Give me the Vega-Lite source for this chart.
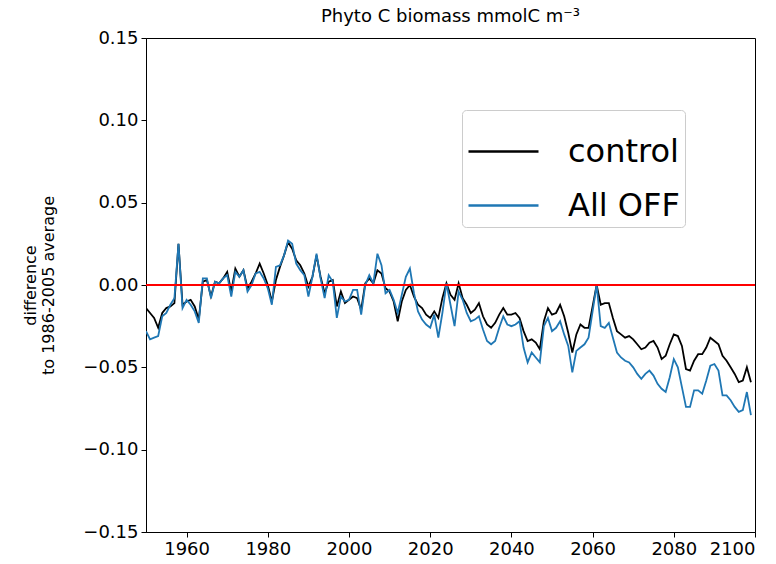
{
  "$schema": "https://vega.github.io/schema/vega-lite/v6.json",
  "width": 609,
  "height": 494,
  "autosize": {"type": "none"},
  "padding": {"left": 146, "top": 38, "right": 21, "bottom": 32},
  "background": "white",
  "config": {
    "font": "DejaVu Sans",
    "view": {"stroke": "black", "strokeWidth": 1},
    "axis": {"grid": false, "domainColor": "black", "tickColor": "black", "labelColor": "black", "titleColor": "black", "labelFont": "DejaVu Sans", "titleFont": "DejaVu Sans", "labelFontSize": 18, "titleFontSize": 16, "titleFontWeight": "normal", "tickSize": 5, "labelPadding": 3}
  },
  "title": {"text": "Phyto C biomass mmolC m⁻³", "fontSize": 18, "fontWeight": "normal", "font": "DejaVu Sans", "color": "black", "offset": 3},
  "layer": [
    {
      "data": {"values": [
        {"year":1950,"control":-0.014,"All OFF":-0.028},{"year":1951,"control":-0.017,"All OFF":-0.033},{"year":1952,"control":-0.020,"All OFF":-0.032},{"year":1953,"control":-0.026,"All OFF":-0.031},{"year":1954,"control":-0.017,"All OFF":-0.019},{"year":1955,"control":-0.014,"All OFF":-0.017},{"year":1956,"control":-0.013,"All OFF":-0.012},{"year":1957,"control":-0.011,"All OFF":-0.008},{"year":1958,"control":0.025,"All OFF":0.025},{"year":1959,"control":-0.012,"All OFF":-0.014},
        {"year":1960,"control":-0.010,"All OFF":-0.009},{"year":1961,"control":-0.009,"All OFF":-0.012},{"year":1962,"control":-0.013,"All OFF":-0.016},{"year":1963,"control":-0.021,"All OFF":-0.023},{"year":1964,"control":0.002,"All OFF":0.004},{"year":1965,"control":0.003,"All OFF":0.004},{"year":1966,"control":-0.007,"All OFF":-0.008},{"year":1967,"control":0.002,"All OFF":0.002},{"year":1968,"control":0.001,"All OFF":0.001},{"year":1969,"control":0.004,"All OFF":0.004},
        {"year":1970,"control":0.008,"All OFF":0.006},{"year":1971,"control":-0.004,"All OFF":-0.007},{"year":1972,"control":0.010,"All OFF":0.008},{"year":1973,"control":0.005,"All OFF":0.005},{"year":1974,"control":0.009,"All OFF":0.009},{"year":1975,"control":-0.002,"All OFF":-0.004},{"year":1976,"control":0.002,"All OFF":0.000},{"year":1977,"control":0.007,"All OFF":0.007},{"year":1978,"control":0.013,"All OFF":0.008},{"year":1979,"control":0.007,"All OFF":0.004},
        {"year":1980,"control":0.000,"All OFF":-0.002},{"year":1981,"control":-0.010,"All OFF":-0.012},{"year":1982,"control":0.003,"All OFF":0.011},{"year":1983,"control":0.011,"All OFF":0.012},{"year":1984,"control":0.018,"All OFF":0.018},{"year":1985,"control":0.026,"All OFF":0.027},{"year":1986,"control":0.022,"All OFF":0.025},{"year":1987,"control":0.015,"All OFF":0.013},{"year":1988,"control":0.012,"All OFF":0.009},{"year":1989,"control":0.007,"All OFF":0.006},
        {"year":1990,"control":-0.001,"All OFF":-0.007},{"year":1991,"control":0.005,"All OFF":0.005},{"year":1992,"control":0.018,"All OFF":0.019},{"year":1993,"control":0.005,"All OFF":0.004},{"year":1994,"control":-0.005,"All OFF":-0.008},{"year":1995,"control":0.002,"All OFF":0.006},{"year":1996,"control":0.003,"All OFF":0.002},{"year":1997,"control":-0.013,"All OFF":-0.020},{"year":1998,"control":-0.004,"All OFF":-0.007},{"year":1999,"control":-0.011,"All OFF":-0.010},
        {"year":2000,"control":-0.009,"All OFF":-0.009},{"year":2001,"control":-0.007,"All OFF":-0.003},{"year":2002,"control":-0.008,"All OFF":-0.003},{"year":2003,"control":-0.015,"All OFF":-0.018},{"year":2004,"control":0.001,"All OFF":0.000},{"year":2005,"control":0.004,"All OFF":0.006},{"year":2006,"control":0.001,"All OFF":0.001},{"year":2007,"control":0.009,"All OFF":0.019},{"year":2008,"control":0.007,"All OFF":0.012},{"year":2009,"control":-0.002,"All OFF":-0.005},
        {"year":2010,"control":-0.004,"All OFF":-0.003},{"year":2011,"control":-0.010,"All OFF":-0.009},{"year":2012,"control":-0.022,"All OFF":-0.017},{"year":2013,"control":-0.010,"All OFF":-0.006},{"year":2014,"control":-0.003,"All OFF":0.005},{"year":2015,"control":0.000,"All OFF":0.010},{"year":2016,"control":-0.007,"All OFF":-0.005},{"year":2017,"control":-0.012,"All OFF":-0.016},{"year":2018,"control":-0.014,"All OFF":-0.021},{"year":2019,"control":-0.018,"All OFF":-0.024},
        {"year":2020,"control":-0.020,"All OFF":-0.026},{"year":2021,"control":-0.016,"All OFF":-0.018},{"year":2022,"control":-0.020,"All OFF":-0.032},{"year":2023,"control":-0.008,"All OFF":-0.017},{"year":2024,"control":0.001,"All OFF":0.001},{"year":2025,"control":-0.006,"All OFF":-0.012},{"year":2026,"control":-0.009,"All OFF":-0.025},{"year":2027,"control":0.001,"All OFF":-0.004},{"year":2028,"control":-0.008,"All OFF":-0.009},{"year":2029,"control":-0.012,"All OFF":-0.017},
        {"year":2030,"control":-0.017,"All OFF":-0.022},{"year":2031,"control":-0.015,"All OFF":-0.021},{"year":2032,"control":-0.011,"All OFF":-0.019},{"year":2033,"control":-0.019,"All OFF":-0.027},{"year":2034,"control":-0.024,"All OFF":-0.034},{"year":2035,"control":-0.026,"All OFF":-0.036},{"year":2036,"control":-0.023,"All OFF":-0.034},{"year":2037,"control":-0.018,"All OFF":-0.026},{"year":2038,"control":-0.014,"All OFF":-0.019},{"year":2039,"control":-0.018,"All OFF":-0.024},
        {"year":2040,"control":-0.018,"All OFF":-0.025},{"year":2041,"control":-0.017,"All OFF":-0.024},{"year":2042,"control":-0.020,"All OFF":-0.022},{"year":2043,"control":-0.028,"All OFF":-0.038},{"year":2044,"control":-0.034,"All OFF":-0.047},{"year":2045,"control":-0.033,"All OFF":-0.041},{"year":2046,"control":-0.035,"All OFF":-0.044},{"year":2047,"control":-0.039,"All OFF":-0.047},{"year":2048,"control":-0.022,"All OFF":-0.025},{"year":2049,"control":-0.014,"All OFF":-0.020},
        {"year":2050,"control":-0.018,"All OFF":-0.028},{"year":2051,"control":-0.017,"All OFF":-0.026},{"year":2052,"control":-0.012,"All OFF":-0.022},{"year":2053,"control":-0.019,"All OFF":-0.030},{"year":2054,"control":-0.029,"All OFF":-0.037},{"year":2055,"control":-0.041,"All OFF":-0.053},{"year":2056,"control":-0.030,"All OFF":-0.040},{"year":2057,"control":-0.024,"All OFF":-0.038},{"year":2058,"control":-0.026,"All OFF":-0.036},{"year":2059,"control":-0.026,"All OFF":-0.032},
        {"year":2060,"control":-0.013,"All OFF":-0.016},{"year":2061,"control":0.000,"All OFF":0.000},{"year":2062,"control":-0.012,"All OFF":-0.025},{"year":2063,"control":-0.011,"All OFF":-0.026},{"year":2064,"control":-0.011,"All OFF":-0.023},{"year":2065,"control":-0.020,"All OFF":-0.032},{"year":2066,"control":-0.028,"All OFF":-0.041},{"year":2067,"control":-0.030,"All OFF":-0.044},{"year":2068,"control":-0.032,"All OFF":-0.046},{"year":2069,"control":-0.031,"All OFF":-0.047},
        {"year":2070,"control":-0.033,"All OFF":-0.050},{"year":2071,"control":-0.036,"All OFF":-0.054},{"year":2072,"control":-0.039,"All OFF":-0.057},{"year":2073,"control":-0.038,"All OFF":-0.054},{"year":2074,"control":-0.035,"All OFF":-0.052},{"year":2075,"control":-0.034,"All OFF":-0.055},{"year":2076,"control":-0.038,"All OFF":-0.060},{"year":2077,"control":-0.045,"All OFF":-0.063},{"year":2078,"control":-0.043,"All OFF":-0.065},{"year":2079,"control":-0.036,"All OFF":-0.056},
        {"year":2080,"control":-0.030,"All OFF":-0.045},{"year":2081,"control":-0.031,"All OFF":-0.050},{"year":2082,"control":-0.037,"All OFF":-0.062},{"year":2083,"control":-0.051,"All OFF":-0.074},{"year":2084,"control":-0.052,"All OFF":-0.074},{"year":2085,"control":-0.046,"All OFF":-0.064},{"year":2086,"control":-0.042,"All OFF":-0.064},{"year":2087,"control":-0.042,"All OFF":-0.066},{"year":2088,"control":-0.038,"All OFF":-0.058},{"year":2089,"control":-0.032,"All OFF":-0.049},
        {"year":2090,"control":-0.034,"All OFF":-0.048},{"year":2091,"control":-0.036,"All OFF":-0.052},{"year":2092,"control":-0.043,"All OFF":-0.067},{"year":2093,"control":-0.046,"All OFF":-0.067},{"year":2094,"control":-0.050,"All OFF":-0.070},{"year":2095,"control":-0.054,"All OFF":-0.074},{"year":2096,"control":-0.059,"All OFF":-0.077},{"year":2097,"control":-0.058,"All OFF":-0.076},{"year":2098,"control":-0.050,"All OFF":-0.065},{"year":2099,"control":-0.059,"All OFF":-0.079}
      ]},
      "transform": [{"fold": ["control", "All OFF"], "as": ["series", "value"]}],
      "mark": {"type": "line", "strokeWidth": 1.8, "clip": true},
      "encoding": {
        "x": {"field": "year", "type": "quantitative", "scale": {"domain": [1950, 2100], "nice": false, "zero": false},
              "axis": {"title": null, "values": [1960, 1980, 2000, 2020, 2040, 2060, 2080, 2100], "format": "d"}},
        "y": {"field": "value", "type": "quantitative", "scale": {"domain": [-0.15, 0.15], "nice": false},
              "axis": {"title": ["difference", "to 1986-2005 average"], "values": [-0.15, -0.1, -0.05, 0, 0.05, 0.1, 0.15], "format": ".2f", "titlePadding": 26}},
        "color": {"field": "series", "type": "nominal", "sort": ["control", "All OFF"],
                  "scale": {"domain": ["control", "All OFF"], "range": ["#000000", "#1f77b4"]},
                  "legend": {"title": null, "orient": "none", "legendX": 316, "legendY": 72, "symbolType": "stroke", "symbolSize": 4900, "symbolStrokeWidth": 2.5, "labelFontSize": 32, "labelFont": "DejaVu Sans", "labelColor": "black", "labelOffset": 28, "rowPadding": 1, "padding": 5, "strokeColor": "#cccccc", "fillColor": "white", "cornerRadius": 4}}
      }
    },
    {
      "data": {"values": [{"ref": 0}]},
      "mark": {"type": "rule", "color": "#ff0000", "strokeWidth": 2},
      "encoding": {"y": {"field": "ref", "type": "quantitative"}}
    }
  ]
}
